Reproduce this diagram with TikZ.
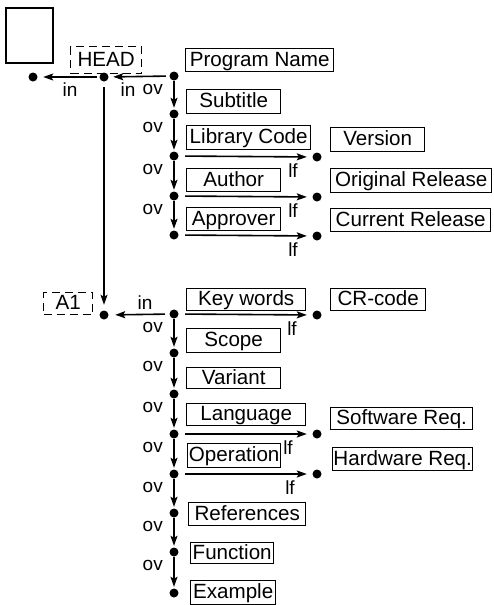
\documentclass[tikz,border=0pt]{standalone}
\usepackage{fontspec}
\setmainfont{Liberation Sans}
\usetikzlibrary{arrows.meta}
\begin{document}
\begin{tikzpicture}[x=1pt,y=-1pt,
  dot/.style={circle,fill=black,inner sep=0pt,minimum size=9pt},
  box/.style={draw=black,line width=1.4pt,rectangle,inner sep=0pt,anchor=north west,
    font=\fontsize{20.6}{22}\selectfont,text height=14pt,text depth=2pt},
  dbox/.style={box,dash pattern=on 8pt off 5pt},
  lbl/.style={font=\fontsize{19}{20}\selectfont,inner sep=0pt},
  arr/.style={line width=1.6pt,-{Stealth[length=10pt,width=7pt,inset=2pt]}},
  rarr/.style={arr,shorten <=6.5pt,shorten >=5.5pt},
  varr/.style={arr,shorten >=1.5pt}
]
\useasboundingbox (0,0) rectangle (493,605);
% plain square
\draw[line width=1.4pt] (6,8) rectangle (53,63);
% dashed boxes
\node[dbox,minimum width=71pt,minimum height=27pt] (head) at (70,46) {HEAD};
\node[dbox,minimum width=49pt,minimum height=22pt] (aone) at (43,292) {A1};
% upper boxes
\node[box,minimum width=148pt,minimum height=23pt] (pname) at (185,48) {Program Name};
\node[box,minimum width=94pt,minimum height=24pt] (subt) at (186,89) {Subtitle};
\node[box,minimum width=124pt,minimum height=24pt] (libc) at (186,125) {Library Code};
\node[box,minimum width=94pt,minimum height=24pt] (vers) at (330,127) {Version};
\node[box,minimum width=94pt,minimum height=23pt] (auth) at (186,168) {Author};
\node[box,minimum width=161pt,minimum height=24pt] (orig) at (330,168) {Original Release};
\node[box,minimum width=94pt,minimum height=23pt] (appr) at (186,207) {Approver};
\node[box,minimum width=160pt,minimum height=23pt] (curr) at (330,208) {Current Release};
% lower boxes
\node[box,minimum width=119pt,minimum height=22pt] (keyw) at (186,288) {Key words};
\node[box,minimum width=95pt,minimum height=22pt] (crc) at (330,288) {CR-code};
\node[box,minimum width=94pt,minimum height=24pt] (scope) at (186,328) {Scope};
\node[box,minimum width=94pt,minimum height=21pt] (vari) at (186,367) {Variant};
\node[box,minimum width=119pt,minimum height=22pt] (lang) at (186,403) {Language};
\node[box,minimum width=142pt,minimum height=22pt] (swr) at (330,407) {Software Req.};
\node[box,minimum width=93pt,minimum height=24pt] (oper) at (187,443) {Operation};
\node[box,minimum width=140pt,minimum height=23pt] (hwr) at (332,447) {Hardware Req.};
\node[box,minimum width=117pt,minimum height=23pt] (refs) at (188,502) {References};
\node[box,minimum width=83pt,minimum height=21pt] (func) at (190,542) {Function};
\node[box,minimum width=85pt,minimum height=24pt] (exam) at (190,580) {Example};
% dots
\node[dot] (l) at (33,77) {};
\node[dot] (h) at (104,77) {};
\node[dot] (p1) at (174,76) {};
\node[dot] (p2) at (174,114) {};
\node[dot] (p3) at (174,156) {};
\node[dot] (p4) at (174,196) {};
\node[dot] (p5) at (174,235) {};
\node[dot] (r3) at (317,157) {};
\node[dot] (r4) at (317,197) {};
\node[dot] (r5) at (317,236) {};
\node[dot] (a) at (104,315) {};
\node[dot] (k1) at (174,314) {};
\node[dot] (k2) at (174,353) {};
\node[dot] (k3) at (174,394) {};
\node[dot] (k4) at (174,434) {};
\node[dot] (k5) at (174,474) {};
\node[dot] (k6) at (174,513) {};
\node[dot] (k7) at (174,552) {};
\node[dot] (k8) at (174,593) {};
\node[dot] (s1) at (317,315) {};
\node[dot] (s4) at (317,434) {};
\node[dot] (s5) at (317,474) {};
% left arrows
\draw[arr,shorten <=3.5pt,shorten >=4.5pt] (p1) -- (h);
\draw[arr,shorten <=2.5pt,shorten >=5.5pt] (h) -- (l);
\draw[arr,shorten <=4.5pt,shorten >=6.5pt] (k1) -- (a);
\draw[arr,shorten <=5.5pt,shorten >=5.5pt] (h) -- (a);
% vertical ov arrows
\foreach \u/\v in {p1/p2,p2/p3,p3/p4,p4/p5,k1/k2,k2/k3,k3/k4,k4/k5,k5/k6,k6/k7,k7/k8}
  \draw[varr] (\u) -- (\v);
% right lf arrows
\foreach \u/\v in {p3/r3,p4/r4,p5/r5,k1/s1,k4/s4,k5/s5}
  \draw[rarr] (\u) -- (\v);
% in labels
\node[lbl,anchor=base] (in1) at (70,96) {in};
\node[lbl,anchor=base] (in2) at (128,96) {in};
\node[lbl,anchor=base] (in3) at (145,309) {in};
% ov labels
\foreach \y [count=\i] in {76,114,156,196,314,353,394,434,474,513,552}
  \node[lbl,anchor=base east] (ov\i) at (163,\y+18) {ov};
% lf labels
\foreach \y/\xx [count=\i] in {157/293,197/293,236/293,315/292,434/288,474/290}
  \node[lbl,anchor=base] (lf\i) at (\xx,\y+20) {lf};
\end{tikzpicture}
\end{document}
